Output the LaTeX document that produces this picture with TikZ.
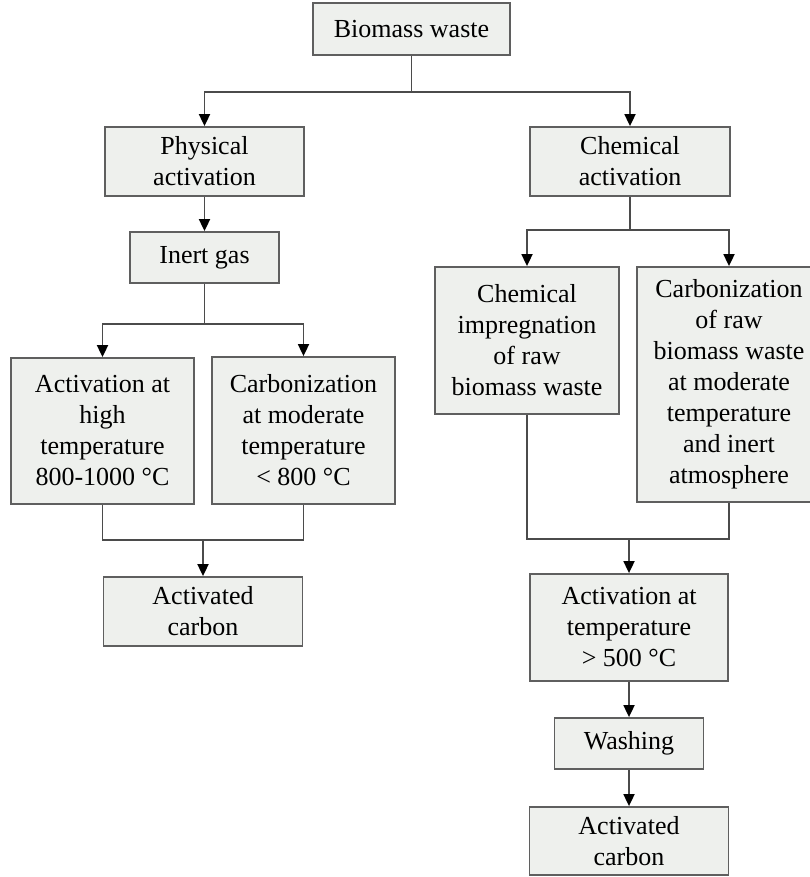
\documentclass[tikz,border=0pt]{standalone}
\usepackage{fontspec}
\setmainfont{Liberation Serif}
\usetikzlibrary{arrows.meta}
\definecolor{boxfill}{RGB}{238,240,237}
\definecolor{boxline}{RGB}{95,95,95}
\definecolor{conline}{RGB}{75,75,75}
\tikzset{
  box/.style={draw=boxline, fill=boxfill, line width=1.8pt, inner sep=0pt,
    align=center, font=\fontsize{26}{31}\selectfont},
  con/.style={draw=conline, line width=1.8pt},
  arr/.style={con, -{Triangle[length=12pt,width=11pt,fill=black,color=black]}}
}
\begin{document}
\begin{tikzpicture}[x=1pt,y=-1pt]
\useasboundingbox (0,0) rectangle (810,877);
\fill[white] (0,0) rectangle (810,877);

\node[box, minimum width=197pt, minimum height=52pt] (bw) at (411.5,29) {Biomass waste};
\node[box, minimum width=199pt, minimum height=69pt] (pa) at (204.5,161.5) {Physical\\activation};
\node[box, minimum width=200pt, minimum height=69pt] (ca) at (630,161.5) {Chemical\\activation};
\node[box, minimum width=149pt, minimum height=51pt] (ig) at (204.5,257.5) {Inert gas};
\node[box, minimum width=183pt, minimum height=146pt] (ah) at (102.5,431) {Activation at\\high\\temperature\\800-1000 °C};
\node[box, minimum width=183pt, minimum height=147pt] (cm) at (303.5,430.5) {Carbonization\\at moderate\\temperature\\< 800 °C};
\node[box, minimum width=199pt, minimum height=69pt] (ac1) at (203,611.5) {Activated\\carbon};
\node[box, minimum width=184pt, minimum height=147pt] (ci) at (527,340.5) {Chemical\\impregnation\\of raw\\biomass waste};
\node[box, minimum width=184pt, minimum height=235pt] (cr) at (729,384.5) {Carbonization\\of raw\\biomass waste\\at moderate\\temperature\\and inert\\atmosphere};
\node[box, minimum width=198pt, minimum height=107pt] (at) at (629,627.5) {Activation at\\temperature\\> 500 °C};
\node[box, minimum width=149pt, minimum height=51pt] (wa) at (629,743.5) {Washing};
\node[box, minimum width=199pt, minimum height=68pt] (ac2) at (629,841) {Activated\\carbon};

% top split
\draw[con] (bw.south) -- ++(0,36) coordinate (j1);
\draw[arr] (j1) -| (pa.north);
\draw[arr] (j1) -| (ca.north);

% left branch
\draw[arr] (pa.south) -- (ig.north);
\draw[con] (ig.south) -- ++(0,40) coordinate (j2);
\draw[arr] (j2) -| (ah.north);
\draw[arr] (j2) -| (cm.north);
\draw[con] (ah.south) -- ++(0,35) coordinate (j3a) -- (j3a -| cm.south) -- (cm.south);
\draw[arr] (j3a -| ac1.north) -- (ac1.north);

% right branch
\draw[con] (ca.south) -- ++(0,33.5) coordinate (j4);
\draw[arr] (j4) -| (ci.north);
\draw[arr] (j4) -| (cr.north);
\draw[con] (ci.south) -- ++(0,124) coordinate (j5a) -- (j5a -| cr.south) -- (cr.south);
\draw[arr] (j5a -| at.north) -- (at.north);
\draw[arr] (at.south) -- (wa.north);
\draw[arr] (wa.south) -- (ac2.north);
\end{tikzpicture}
\end{document}
